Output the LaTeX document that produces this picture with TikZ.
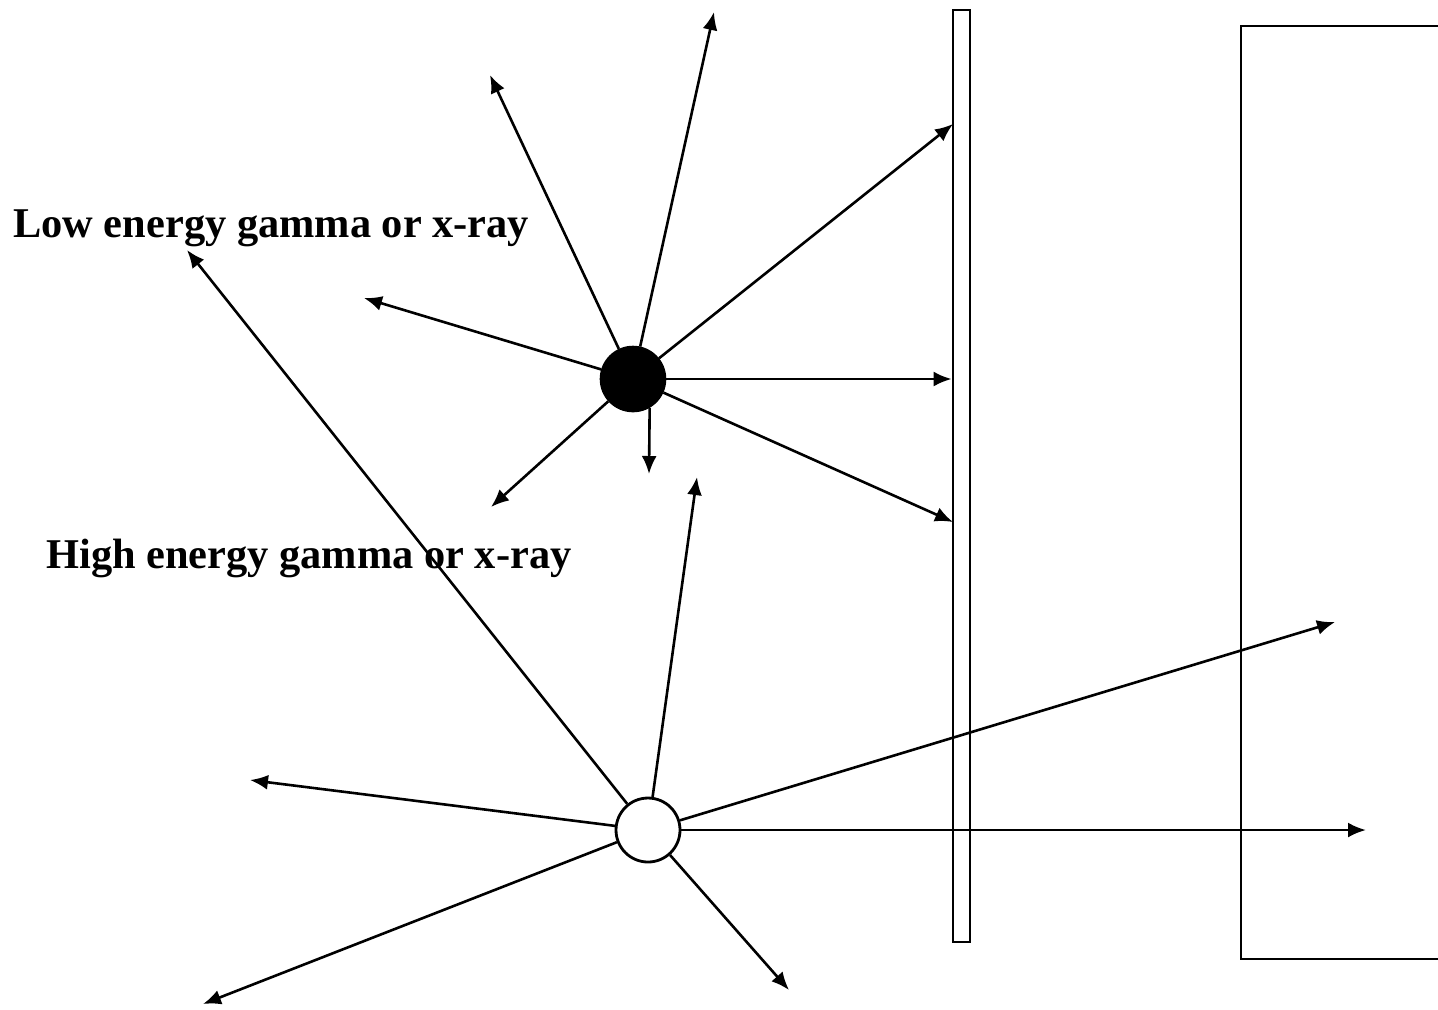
\documentclass[tikz,border=0pt]{standalone}
\usepackage{fontspec}
\setmainfont{Liberation Serif}
\usetikzlibrary{arrows.meta}

\begin{document}
\begin{tikzpicture}[x=0.5pt,y=-0.5pt,line width=1.3pt,>={Latex[length=9pt,width=7.5pt]},
 every node/.style={font=\fontsize{21.2}{26}\selectfont\bfseries}]
\useasboundingbox (0,0) rectangle (1438,1009);
% plate and box
\node[draw,line width=1.4pt,minimum width=8.5pt,minimum height=466pt,inner sep=0pt] (plate) at (961.5,476) {};
\coordinate (b1) at (1438,26);
\coordinate (b2) at (1241,26);
\coordinate (b3) at (1241,959);
\coordinate (b4) at (1438,959);
\draw[line width=1.4pt] (b1) -- (b2) -- (b3) -- (b4);
% sources
\node[circle,fill=black,draw,minimum size=32pt,inner sep=0pt] (low) at (633,379) {};
\node[circle,fill=white,draw,line width=1.4pt,minimum size=32pt,inner sep=0pt] (high) at (648,830) {};
\node[anchor=base west,inner sep=0pt] (lowlbl) at (12,237) {Low energy gamma or x-ray};
\node[anchor=base west,inner sep=0pt] (highlbl) at (45,568) {High energy gamma or x-ray};
% low energy rays
\coordinate (l1) at (714,12);
\coordinate (l2) at (490,75);
\coordinate (l3) at (364,298);
\coordinate (l4) at (491,507);
\coordinate (l5) at (649,474);
\coordinate (l6) at (953,124);
\coordinate (l7) at (953,522);
\draw[->] (low) -- (l1);
\draw[->] (low) -- (l2);
\draw[->] (low) -- (l3);
\draw[->] (low) -- (l4);
\draw[->] (low.-60) -- (l5);
\draw[->] (low) -- (l6);
\draw[->] (low) -- (low -| plate.west);
\draw[->] (low) -- (l7);
% high energy rays
\coordinate (h1) at (187,250);
\coordinate (h2) at (697,477);
\coordinate (h3) at (250,780);
\coordinate (h4) at (203,1004);
\coordinate (h5) at (789,990);
\coordinate (h6) at (1366,830);
\coordinate (h7) at (1335,622);
\draw[->] (high) -- (h1);
\draw[->] (high) -- (h2);
\draw[->] (high) -- (h3);
\draw[->] (high) -- (h4);
\draw[->] (high) -- (h5);
\draw[->] (high) -- (h6);
\draw[->] (high) -- (h7);
\end{tikzpicture}
\end{document}
